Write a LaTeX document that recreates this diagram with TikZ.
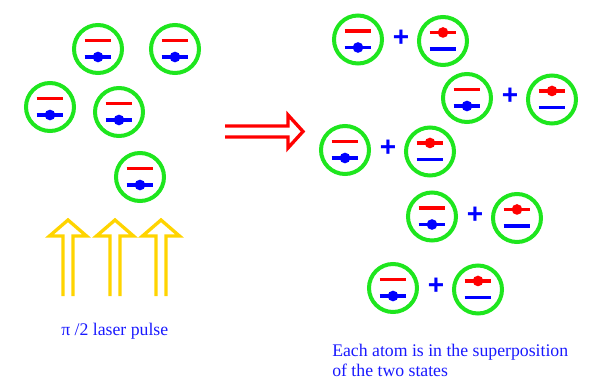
\documentclass[tikz,border=0pt]{standalone}
\usepackage{fontspec}
\setmainfont{Liberation Serif}
\setsansfont{Liberation Sans}
\usetikzlibrary{positioning}

\definecolor{atomgreen}{RGB}{30,230,30}
\definecolor{lasergold}{RGB}{255,212,0}
\definecolor{textblue}{RGB}{25,25,255}

\begin{document}
\begin{tikzpicture}[
  x=0.75pt, y=-0.75pt,
  atom/.style={circle, draw=atomgreen, line width=3pt, minimum size=36pt, inner sep=0pt},
  lvl/.style={line width=2.5pt},
  plus/.style={text=blue, font=\sffamily\bfseries\fontsize{21}{21}\selectfont, inner sep=0pt},
  caption/.style={text=textblue, font=\fontsize{13.3}{15}\selectfont, inner sep=0pt, align=left},
  beam/.style={draw=lasergold, line width=2.5pt, miter limit=10},
  pulsearrow/.style={draw=red, line width=2.5pt, miter limit=10},
  ground/.pic={
    \node[atom] (-c) {};
    \draw[lvl, red] (-10pt,6.4pt) -- (10pt,6.4pt);
    \draw[lvl, blue] (-10pt,-6pt) -- (10pt,-6pt);
    \fill[blue] (0pt,-6pt) circle (4pt);
  },
  excited/.pic={
    \node[atom] (-c) {};
    \draw[lvl, red] (-10pt,6.4pt) -- (10pt,6.4pt);
    \draw[lvl, blue] (-10pt,-6pt) -- (10pt,-6pt);
    \fill[red] (0pt,6.4pt) circle (4pt);
  }
]
\useasboundingbox (0,0) rectangle (590,379);

% atoms before the pulse
\pic (a1) at (98,49) {ground};
\pic (a2) at (175,49) {ground};
\pic (a3) at (50,107) {ground};
\pic (a4) at (119,112) {ground};
\pic (a5) at (140,177) {ground};

% laser beams
\foreach \bx/\bn in {68/b1,115/b2,161/b3}{
  \coordinate (\bn) at (\bx,296);
  \draw[beam] ([xshift=-3.75pt]\bn) -- ++(0,-60) -- ++(-13.5,0) -- ++(18.5,-16)
    -- ++(18.5,16) -- ++(-13.5,0) -- ++(0,60);
}
\node[caption, anchor=base west] (pulsetext) at (61,335) {π /2 laser pulse};

% big arrow
\coordinate (go) at (225,131.3);
\draw[pulsearrow] ([yshift=4pt]go) -- ++(63,0) -- ++(0,-11) -- ++(15,16.5)
  -- ++(-15,16.5) -- ++(0,-11) -- ++(-63,0);

% superposed atoms
\foreach \gx/\gy/\k in {358/39.5/1,467/98/2,345/150/3,432/216.5/4,393/288/5}{
  \pic (g\k) at (\gx,\gy) {ground};
  \node[plus] (p\k) at (\gx+43,\gy-1.5) {+};
  \pic (e\k) at (\gx+85,\gy+1.5) {excited};
}

\node[caption, anchor=base west] (statetext) at (332,376)
  {Each atom is in the superposition\\of the two states};
\end{tikzpicture}
\end{document}
